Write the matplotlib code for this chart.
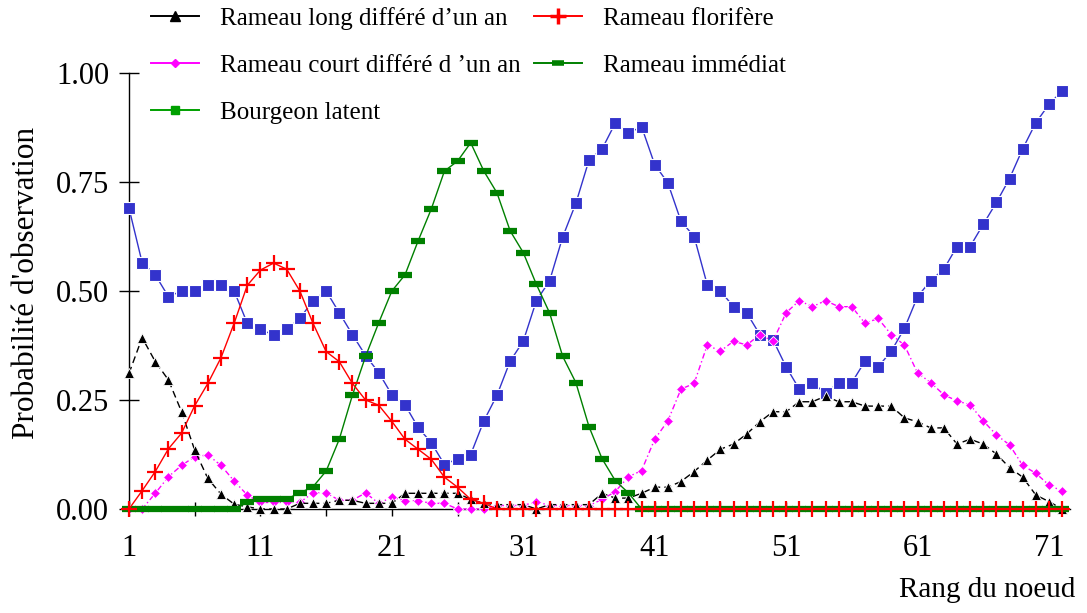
import matplotlib
matplotlib.use("Agg")
import matplotlib.pyplot as plt
from matplotlib.lines import Line2D
import numpy as np

nodes = list(range(1, 73))

bourgeon_latent = [0.69, 0.565, 0.537, 0.487, 0.50, 0.50, 0.514, 0.514, 0.50, 0.426,
                   0.412, 0.399, 0.412, 0.437, 0.478, 0.50, 0.45, 0.40, 0.352, 0.313,
                   0.262, 0.239, 0.187, 0.152, 0.102, 0.115, 0.125, 0.202, 0.261, 0.339,
                   0.385, 0.478, 0.523, 0.624, 0.701, 0.80, 0.826, 0.885, 0.862, 0.877,
                   0.79, 0.748, 0.66, 0.625, 0.514, 0.50, 0.464, 0.45, 0.40, 0.388,
                   0.326, 0.275, 0.29, 0.265, 0.29, 0.29, 0.339, 0.326, 0.362, 0.414,
                   0.487, 0.524, 0.55, 0.602, 0.602, 0.653, 0.703, 0.758, 0.826, 0.886,
                   0.928, 0.959]

rameau_florifere = [0.0, 0.042, 0.086, 0.138, 0.174, 0.237, 0.288, 0.347, 0.426, 0.513,
                    0.548, 0.564, 0.55, 0.50, 0.426, 0.361, 0.338, 0.288, 0.25, 0.238,
                    0.201, 0.16, 0.137, 0.114, 0.073, 0.05, 0.022, 0.013] + [0.0] * 44

rameau_long = [0.311, 0.393, 0.338, 0.296, 0.223, 0.135, 0.07, 0.034, 0.011, 0.005,
               0.0, 0.0, 0.0, 0.013, 0.013, 0.013, 0.02, 0.02, 0.013, 0.013,
               0.013, 0.036, 0.036, 0.036, 0.036, 0.036, 0.022, 0.013, 0.01, 0.01,
               0.01, 0.0, 0.01, 0.01, 0.01, 0.01, 0.036, 0.025, 0.025, 0.036,
               0.05, 0.05, 0.063, 0.086, 0.112, 0.137, 0.149, 0.172, 0.20, 0.223,
               0.223, 0.246, 0.246, 0.259, 0.246, 0.246, 0.236, 0.236, 0.236, 0.209,
               0.20, 0.186, 0.186, 0.149, 0.16, 0.149, 0.126, 0.095, 0.073, 0.032,
               0.017, 0.0]

rameau_court = [0.0, 0.0, 0.036, 0.074, 0.10, 0.12, 0.124, 0.10, 0.064, 0.032,
                0.015, 0.015, 0.015, 0.015, 0.037, 0.037, 0.02, 0.02, 0.037, 0.013,
                0.027, 0.019, 0.019, 0.013, 0.013, 0.0, 0.0, 0.0, 0.008, 0.008,
                0.008, 0.017, 0.008, 0.008, 0.008, 0.008, 0.022, 0.04, 0.074, 0.088,
                0.16, 0.202, 0.275, 0.288, 0.376, 0.362, 0.385, 0.376, 0.40, 0.385,
                0.45, 0.478, 0.464, 0.478, 0.464, 0.464, 0.426, 0.437, 0.40, 0.376,
                0.312, 0.29, 0.262, 0.248, 0.239, 0.202, 0.17, 0.147, 0.10, 0.082,
                0.055, 0.041]

rameau_immediat = [0.0] * 9 + [0.015, 0.023, 0.023, 0.023, 0.037, 0.051, 0.087, 0.16, 0.261,
                               0.35, 0.427, 0.50, 0.537, 0.615, 0.688, 0.775, 0.798, 0.84,
                               0.775, 0.725, 0.638, 0.588, 0.515, 0.45, 0.35, 0.29, 0.189,
                               0.115, 0.065, 0.037] + [0.0] * 33

x_ticks = [1, 11, 21, 31, 41, 51, 61, 71]
y_ticks = [0.0, 0.25, 0.5, 0.75, 1.0]
y_ticklabels = ["0.00", "0.25", "0.50", "0.75", "1.00"]

labels = ["Rameau long différé d\u2019un an", "Rameau court différé d \u2019un an",
          "Bourgeon latent", "Rameau florifère", "Rameau immédiat"]

plt.rcParams['font.family'] = ['Liberation Serif', 'DejaVu Serif']

W, H = 1087, 613
fig = plt.figure(figsize=(W / 100, H / 100), dpi=100)
ax = fig.add_axes([129 / W, (H - 509) / H, (1070 - 129) / W, (509 - 73) / H])

BLUE = "#3333CC"
PINK = "#FF00FF"
GREEN = "#008000"
RED = "#FF0000"

ax.plot(nodes, bourgeon_latent, color=BLUE, lw=1.0, marker='s', ms=8,
        mfc=BLUE, mec='white', mew=0.8, clip_on=False, zorder=3)
ax.plot(nodes, rameau_court, color=PINK, lw=1.0, ls=(0, (4, 2, 1, 2)), marker='D', ms=5.5,
        mfc=PINK, mec='white', mew=0.6, clip_on=False, zorder=4)
ax.plot(nodes, rameau_long, color='black', lw=1.0, ls=(0, (5, 3)), marker='^', ms=7.5,
        mfc='black', mec='white', mew=0.6, clip_on=False, zorder=5)
ax.plot(nodes, rameau_immediat, color=GREEN, lw=1.0, marker='_', ms=10, mew=4.5,
        mec=GREEN, clip_on=False, zorder=6)
ax.plot(nodes, rameau_florifere, color=RED, lw=1.0, marker='+', ms=11, mew=1.6,
        mec=RED, clip_on=False, zorder=7)

ax.set_xlim(1, 72.6)
ax.set_ylim(0, 1)
for s in ['top', 'right']:
    ax.spines[s].set_visible(False)
ax.spines['left'].set_bounds(0, 1)
ax.spines['left'].set_linewidth(1.0)
ax.spines['bottom'].set_linewidth(1.0)
ax.set_xticks(x_ticks)
ax.set_xticks([6, 16, 26, 36, 46, 56, 66], minor=True)
ax.set_yticks(y_ticks)
ax.set_yticklabels(y_ticklabels)
ax.tick_params(axis='y', direction='inout', length=14.5, width=1.0, labelsize=22, pad=7)
ax.tick_params(axis='x', which='both', direction='inout', length=10, width=1.0,
               labelsize=22, pad=13)

ax.set_ylabel("Probabilité d'observation", fontsize=22.5)
ax.yaxis.set_label_coords(-0.094, 0.518)
fig.text(1075 / W, 1 - 590 / H, "Rang du noeud", fontsize=21, ha='right', va='center')

handles = [
    Line2D([], [], color='black', lw=1.4, marker='^', ms=7, mfc='black', mec='black'),
    Line2D([], [], color=PINK, lw=1.4, marker='D', ms=4, mfc=PINK, mec=PINK),
    Line2D([], [], color='#00A000', lw=1.4, marker='s', ms=6, mfc='#00A000', mec='#00A000'),
    Line2D([], [], color=RED, lw=1.4, marker='+', ms=12, mew=2.5, mec=RED),
    Line2D([], [], color=GREEN, lw=1.4, marker='_', ms=8, mew=4, mec=GREEN),
]
fig.legend(handles, labels, ncol=2, loc='upper left',
           bbox_to_anchor=(151 / W, 1 - 7 / H), frameon=False, fontsize=18,
           handlelength=1.9, handletextpad=0.85, columnspacing=0.55,
           labelspacing=0.98, borderpad=0, borderaxespad=0)

fig.savefig("out.png", dpi=100)
